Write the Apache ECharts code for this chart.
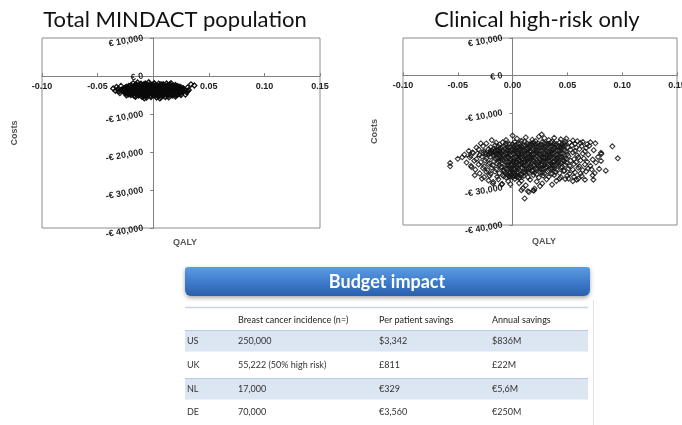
<!DOCTYPE html>
<html>
<head>
<meta charset="utf-8">
<script src="https://cdn.jsdelivr.net/npm/echarts@6/dist/echarts.min.js"></script>
<style>html,body{margin:0;padding:0;background:#fff}#c{width:682px;height:425px}</style>
</head>
<body>
<div id="c"></div>
<script>
// ---- Titles / labels ----
const chartTitles = ['Total MINDACT population', 'Clinical high-risk only'];
const xName = 'QALY';
const yName = 'Costs';
const xTicks = [-0.10, -0.05, 0.00, 0.05, 0.10, 0.15];
const yTicks = [10000, 0, -10000, -20000, -30000, -40000];

// ---- Scatter data: Total MINDACT population [QALY, cost] ----
const totalPoints = [
[-0.011,-2050],[-0.007,-1950],[-0.003,-2100],[0.001,-1900],[0.005,-2000],[0.009,-2150],[0.012,-1980],
[-0.015,-2200],[-0.008,-2180],[0.000,-2220],[0.007,-2190],[0.015,-2210],
[-0.020,-2450],[-0.016,-2350],[-0.013,-2480],[-0.009,-2300],[-0.005,-2420],[-0.002,-2380],[0.002,-2460],[0.006,-2330],[0.009,-2440],[0.013,-2370],[0.016,-2490],[0.020,-2350],
[-0.022,-2620],[-0.017,-2580],[-0.012,-2650],[-0.007,-2560],[-0.002,-2630],[0.003,-2590],[0.008,-2640],[0.013,-2570],[0.018,-2610],[0.022,-2660],
[-0.024,-2850],[-0.021,-2750],[-0.018,-2880],[-0.014,-2760],[-0.011,-2830],[-0.008,-2720],[-0.004,-2870],[-0.001,-2780],[0.003,-2840],[0.006,-2730],[0.010,-2890],[0.013,-2770],[0.017,-2850],[0.020,-2740],[0.024,-2820],
[-0.025,-3020],[-0.019,-2980],[-0.015,-3050],[-0.009,-2960],[-0.005,-3030],[0.000,-2990],[0.005,-3040],[0.010,-2970],[0.015,-3010],[0.019,-3060],[0.025,-2990],
[-0.024,-3100],[-0.018,-3080],[-0.012,-3110],[-0.007,-3090],[-0.001,-3100],[0.006,-3080],[0.012,-3120],[0.017,-3090],[0.022,-3110],
[-0.026,-3250],[-0.023,-3150],[-0.020,-3280],[-0.016,-3160],[-0.013,-3230],[-0.010,-3120],[-0.006,-3270],[-0.003,-3180],[0.001,-3240],[0.004,-3130],[0.008,-3290],[0.011,-3170],[0.014,-3220],[0.018,-3140],[0.021,-3260],[0.024,-3190],[0.027,-3230],
[-0.026,-3420],[-0.022,-3380],[-0.017,-3450],[-0.012,-3360],[-0.007,-3430],[-0.002,-3390],[0.002,-3440],[0.007,-3370],[0.012,-3410],[0.017,-3460],[0.022,-3390],[0.026,-3430],
[-0.028,-3500],[-0.019,-3510],[-0.013,-3490],[-0.005,-3520],[0.000,-3500],[0.005,-3480],[0.010,-3510],[0.015,-3490],[0.020,-3520],[0.025,-3500],
[-0.027,-3620],[-0.024,-3550],[-0.021,-3680],[-0.018,-3560],[-0.014,-3640],[-0.011,-3530],[-0.008,-3670],[-0.004,-3580],[-0.001,-3650],[0.003,-3540],[0.006,-3690],[0.009,-3570],[0.013,-3630],[0.016,-3550],[0.019,-3680],[0.023,-3590],[0.026,-3640],[0.028,-3560],
[-0.029,-3820],[-0.025,-3780],[-0.019,-3850],[-0.015,-3760],[-0.009,-3830],[-0.005,-3790],[0.001,-3840],[0.005,-3770],[0.011,-3810],[0.015,-3860],[0.021,-3790],[0.025,-3830],[0.029,-3800],
[-0.022,-3900],[-0.016,-3910],[-0.011,-3880],[-0.006,-3900],[-0.002,-3920],[0.003,-3890],[0.008,-3900],[0.013,-3910],[0.018,-3880],[0.023,-3900],[0.031,-3950],
[-0.027,-4050],[-0.023,-3950],[-0.020,-4080],[-0.017,-3960],[-0.013,-4030],[-0.010,-3920],[-0.007,-4070],[-0.003,-3980],[0.000,-4040],[0.004,-3930],[0.007,-4090],[0.010,-3970],[0.014,-4020],[0.017,-3940],[0.020,-4060],[0.024,-3990],[0.027,-4040],
[-0.026,-4220],[-0.021,-4180],[-0.016,-4250],[-0.011,-4160],[-0.006,-4230],[-0.001,-4190],[0.003,-4240],[0.008,-4170],[0.013,-4210],[0.018,-4260],[0.022,-4190],[0.026,-4230],
[-0.023,-4300],[-0.017,-4310],[-0.010,-4290],[-0.004,-4300],[0.000,-4320],[0.006,-4290],[0.010,-4300],[0.017,-4310],[0.024,-4290],
[-0.025,-4450],[-0.022,-4350],[-0.018,-4480],[-0.015,-4360],[-0.012,-4430],[-0.008,-4320],[-0.005,-4470],[-0.002,-4380],[0.002,-4440],[0.005,-4330],[0.008,-4490],[0.012,-4370],[0.015,-4420],[0.019,-4340],[0.022,-4460],[0.025,-4390],
[-0.024,-4620],[-0.019,-4580],[-0.013,-4650],[-0.009,-4560],[-0.003,-4630],[0.001,-4590],[0.007,-4640],[0.011,-4570],[0.016,-4610],[0.021,-4660],[0.024,-4600],
[-0.021,-4700],[-0.016,-4710],[-0.010,-4690],[-0.006,-4700],[0.002,-4710],[0.005,-4690],[0.012,-4700],[0.019,-4710],
[-0.022,-4850],[-0.018,-4750],[-0.015,-4880],[-0.011,-4760],[-0.008,-4830],[-0.004,-4720],[-0.001,-4870],[0.003,-4780],[0.006,-4840],[0.010,-4730],[0.013,-4890],[0.017,-4770],[0.020,-4850],[0.023,-4740],
[-0.020,-5020],[-0.014,-4980],[-0.010,-5050],[-0.005,-4960],[0.000,-5030],[0.004,-4990],[0.008,-5040],[0.014,-4970],[0.018,-5010],[0.021,-5060],
[-0.017,-5250],[-0.013,-5150],[-0.009,-5280],[-0.006,-5160],[-0.002,-5230],[0.002,-5120],[0.005,-5270],[0.009,-5180],[0.013,-5240],[0.017,-5150],
[-0.006,-5650],[-0.002,-5550],[0.003,-5680],[0.007,-5580],[-0.010,-5500],[0.011,-5520],
[-0.036,-3300],[-0.034,-3900],[-0.032,-3500],[-0.031,-4100],[-0.033,-2900],[-0.029,-2600],[-0.030,-4500],[0.031,-3000],[0.030,-4300],[0.032,-3700],[0.029,-4900],[0.037,-2500],[0.034,-2200],[-0.018,-1900],[-0.014,-1700],[0.016,-1900],[-0.004,-1650],[0.006,-5900],[-0.008,-5850],[0.014,-5600],[-0.016,-5500],[0.020,-5400],[-0.024,-5100],[0.025,-5000]
];

// ---- Scatter data: Clinical high-risk only [QALY, cost] ----
const highRiskPoints = [
[-0.057,-23400],[-0.057,-24300],[-0.046,-21900],[0.091,-18950],[0.096,-22170],[0.085,-25470],[0.081,-21000],[0.0755,-18150],[0.011,-32900],[0.000,-16100],[-0.018,-28900],[-0.0095,-29000],[0.014,-31000],[0.019,-30800],[0.0093,-30200],[0.0737,-27900],
[0.0807,-20700],[0.0807,-22870],[0.0731,-22500],[0.072,-25100],[0.073,-26700],[0.066,-27900],[0.0585,-27900],[0.0195,-30750],[0.025,-29600],[0.064,-17800],[0.0265,-15800],[0.043,-27600],[0.051,-27600],
[-0.0366,-20600],[-0.029,-18200],[-0.019,-17300],[-0.0375,-24500],[-0.0345,-26700],[-0.028,-27600],[-0.0177,-28500],[-0.010,-29200],[0.008,-30700],[0.015,-31200],[0.020,-30300],
[0.004,-16900],[0.012,-16600],[0.018,-17200],[0.024,-16400],[0.029,-16800],[0.033,-17300],[0.038,-16700],[0.044,-17100],[0.049,-16900],[0.055,-17400],[-0.006,-17300],[0.008,-17500],[0.021,-17600],[0.036,-17700],[0.059,-17600],
[-0.024,-18200],[-0.015,-18000],[-0.009,-17900],[-0.003,-18300],[0.002,-17800],[0.007,-18100],[0.011,-17700],[0.015,-18400],[0.019,-17900],[0.023,-18200],[0.027,-17800],[0.031,-18300],[0.035,-18000],[0.040,-18400],[0.043,-17900],[0.047,-18200],[0.052,-18000],[0.057,-18300],[0.062,-18100],[0.068,-18400],[0.071,-17900],[-0.012,-18450],[0.026,-18500],[0.048,-17650],
[-0.006,-18150],[0.000,-18350],[0.005,-18250],[0.013,-18150],[0.017,-18300],[0.021,-18350],[0.029,-18100],[0.033,-18250],[0.038,-18150],[0.045,-18350],
[-0.033,-19300],[-0.027,-18900],[-0.020,-19200],[-0.016,-18700],[-0.011,-19400],[-0.006,-18800],[-0.002,-19100],[0.003,-18600],[0.006,-19300],[0.010,-18900],[0.013,-19400],[0.016,-18700],[0.020,-19200],[0.024,-18800],[0.028,-19300],[0.032,-18700],[0.036,-19100],[0.039,-18600],[0.043,-19400],[0.046,-18900],[0.050,-19200],[0.054,-18700],[0.058,-19300],[0.063,-18900],[0.067,-19400],[0.070,-18800],[0.009,-19450],[0.030,-19000],[0.041,-19000],[0.018,-18550],
[-0.013,-19050],[-0.008,-18950],[-0.004,-19250],[0.001,-19000],[0.004,-19150],[0.008,-19050],[0.012,-18800],[0.015,-19150],[0.022,-19050],[0.026,-19150],[0.034,-18900],[0.038,-19250],[0.044,-19100],[0.048,-18800],
[-0.040,-20200],[-0.031,-19800],[-0.026,-20300],[-0.022,-19700],[-0.019,-20100],[-0.014,-19900],[-0.010,-20400],[-0.007,-19600],[-0.004,-20200],[0.000,-19800],[0.004,-20300],[0.007,-19700],[0.011,-20100],[0.014,-19600],[0.017,-20400],[0.021,-19900],[0.025,-20200],[0.029,-19700],[0.033,-20300],[0.037,-19800],[0.041,-20100],[0.045,-19600],[0.049,-20400],[0.053,-19900],[0.057,-20200],[0.061,-19700],[0.066,-20300],[0.074,-20000],[-0.017,-19550],[0.022,-20450],[0.035,-20450],[0.002,-19550],
[-0.016,-20250],[-0.012,-19750],[-0.009,-20100],[-0.005,-19950],[-0.002,-20050],[0.002,-20150],[0.006,-19900],[0.009,-20250],[0.013,-19850],[0.016,-20050],[0.019,-19750],[0.023,-20100],[0.027,-19950],[0.031,-20150],[0.035,-19850],[0.039,-20250],[0.043,-19950],[0.047,-20100],
[-0.044,-21200],[-0.036,-20800],[-0.030,-21300],[-0.025,-20700],[-0.022,-21100],[-0.020,-20600],[-0.018,-21400],[-0.015,-20900],[-0.013,-21200],[-0.011,-20700],[-0.008,-21300],[-0.005,-20800],[-0.001,-21200],[0.003,-20700],[0.006,-21400],[0.009,-20900],[0.012,-21300],[0.016,-20600],[0.019,-21100],[0.023,-20800],[0.026,-21400],[0.030,-20900],[0.034,-21200],[0.038,-20700],[0.042,-21300],[0.046,-20800],[0.050,-21100],[0.055,-20600],[0.059,-21400],[0.064,-20900],[0.069,-21200],[-0.021,-20900],[-0.016,-21000],[0.014,-21000],[0.031,-21450],
[-0.024,-21050],[-0.019,-20800],[-0.014,-21100],[-0.010,-20950],[-0.006,-21050],[-0.003,-20900],[0.001,-21050],[0.005,-20850],[0.008,-21150],[0.011,-20800],[0.017,-21250],[0.021,-20950],[0.025,-21050],[0.028,-21200],[0.032,-20800],[0.036,-21000],[0.040,-21150],[0.044,-20950],
[-0.050,-22300],[-0.039,-21900],[-0.033,-22400],[-0.028,-21700],[-0.024,-22200],[-0.020,-21800],[-0.016,-22300],[-0.012,-21600],[-0.009,-22100],[-0.005,-21700],[-0.002,-22400],[0.002,-21900],[0.005,-22200],[0.008,-21600],[0.012,-22300],[0.015,-21800],[0.018,-22100],[0.022,-21600],[0.025,-22400],[0.028,-21900],[0.032,-22200],[0.035,-21700],[0.039,-22300],[0.043,-21800],[0.047,-22100],[0.051,-21600],[0.056,-22400],[0.060,-21900],[0.065,-22200],[0.078,-21800],[0.010,-22450],[0.020,-22000],[0.037,-22050],[-0.007,-22000],
[-0.014,-21950],[-0.011,-22200],[-0.004,-22050],[0.000,-22150],[0.004,-21800],[0.007,-22000],[0.013,-21950],[0.017,-21800],[0.024,-22100],[0.027,-21750],[0.030,-22050],[0.034,-21950],[0.041,-22050],[0.045,-21900],[0.049,-22250],
[-0.042,-23300],[-0.035,-22800],[-0.029,-23200],[-0.025,-22700],[-0.021,-23400],[-0.017,-22900],[-0.013,-23100],[-0.009,-22600],[-0.006,-23300],[-0.002,-22800],[0.001,-23200],[0.005,-22700],[0.008,-23400],[0.011,-22900],[0.015,-23100],[0.018,-22600],[0.021,-23300],[0.025,-22800],[0.028,-23200],[0.031,-22700],[0.035,-23400],[0.038,-22900],[0.042,-23100],[0.046,-22600],[0.049,-23300],[0.053,-22800],[0.058,-23200],[0.062,-22700],[0.068,-23100],[0.076,-23300],[0.016,-22650],[0.003,-23450],[0.044,-23450],
[-0.011,-22850],[-0.004,-23050],[0.000,-22900],[0.003,-23100],[0.007,-22850],[0.010,-23150],[0.013,-22800],[0.019,-22950],[0.023,-23050],[0.027,-22900],[0.030,-23100],[0.033,-22850],[0.037,-23150],[0.040,-22800],[0.047,-22950],
[-0.038,-24200],[-0.031,-23800],[-0.026,-24300],[-0.022,-23700],[-0.018,-24100],[-0.014,-23600],[-0.010,-24400],[-0.007,-23900],[-0.003,-24200],[0.000,-23700],[0.004,-24300],[0.007,-23800],[0.010,-24100],[0.014,-23600],[0.017,-24400],[0.020,-23900],[0.024,-24200],[0.027,-23700],[0.031,-24300],[0.034,-23800],[0.037,-24100],[0.041,-23600],[0.045,-24400],[0.048,-23900],[0.052,-24200],[0.056,-23700],[0.061,-24300],[0.066,-23800],[0.071,-24200],[0.012,-23950],[0.029,-24000],
[-0.012,-24050],[-0.005,-23950],[-0.001,-24100],[0.002,-23850],[0.006,-24050],[0.009,-23750],[0.016,-24000],[0.019,-24150],[0.022,-23800],[0.026,-24050],[0.033,-24150],[0.036,-23850],[0.039,-24000],[0.043,-23900],
[-0.034,-25200],[-0.027,-24800],[-0.023,-25300],[-0.019,-24700],[-0.015,-25100],[-0.011,-24600],[-0.008,-25400],[-0.004,-24900],[-0.001,-25200],[0.003,-24700],[0.006,-25300],[0.009,-24800],[0.013,-25100],[0.016,-24600],[0.019,-25400],[0.023,-24900],[0.026,-25200],[0.030,-24700],[0.033,-25300],[0.036,-24800],[0.040,-25100],[0.044,-24600],[0.047,-25400],[0.051,-24900],[0.055,-25200],[0.060,-24700],[0.064,-25300],[0.069,-24900],[0.079,-25000],
[-0.006,-25050],[-0.002,-24800],[0.001,-25000],[0.005,-24900],[0.011,-25000],[0.015,-24850],[0.021,-25050],[0.025,-24800],[0.028,-25000],[0.035,-25050],[0.038,-24900],
[-0.030,-26200],[-0.024,-25800],[-0.020,-26300],[-0.016,-25700],[-0.012,-26100],[-0.008,-25600],[-0.005,-26400],[-0.002,-25900],[0.002,-26200],[0.005,-25700],[0.008,-26300],[0.012,-25800],[0.015,-26100],[0.018,-25600],[0.022,-26400],[0.025,-25900],[0.029,-26200],[0.032,-25700],[0.036,-26300],[0.039,-25800],[0.043,-26100],[0.047,-25600],[0.052,-26300],[0.057,-25900],[0.062,-26200],[0.067,-25700],[0.075,-26100],
[-0.007,-26000],[-0.003,-26250],[0.000,-25800],[0.004,-26050],[0.010,-26000],[0.014,-25850],[0.020,-26050],[0.027,-26000],
[-0.026,-27200],[-0.021,-26800],[-0.014,-27100],[-0.009,-26700],[-0.006,-27300],[-0.003,-26900],[0.000,-27200],[0.003,-26600],[0.006,-27400],[0.010,-26900],[0.014,-27200],[0.019,-26700],[0.024,-27300],[0.028,-26800],[0.033,-27100],[0.038,-26600],[0.044,-27200],[0.050,-26800],[0.056,-27100],[0.063,-26900],[-0.001,-26650],[0.005,-27000],
[-0.008,-27050],[-0.004,-26750],[-0.002,-27100],[0.002,-26900],[0.004,-27200],[0.008,-26800],
[-0.022,-28100],[-0.013,-27800],[-0.004,-28300],[0.002,-27700],[0.008,-28200],[0.016,-27900],[0.022,-28400],[0.031,-27800],[0.040,-28200],[0.048,-27700],[0.055,-28300],[0.060,-27600],
[-0.002,-29100],[0.006,-28800],[0.012,-29400],[0.027,-28900],[0.036,-29200]
];

// ---- Budget impact table ----
const tableTitle = 'Budget impact';
const tableHeaders = ['', 'Breast cancer incidence (n=)', 'Per patient savings', 'Annual savings'];
const countries = ['US', 'UK', 'NL', 'DE'];
const incidence = ['250,000', '55,222 (50% high risk)', '17,000', '70,000'];
const perPatientSavings = ['$3,342', '£811', '€329', '€3,560'];
const annualSavings = ['$836M', '£22M', '€5,6M', '€250M'];

const FONT = 'Liberation Sans';
const TFONT = 'Lato';

function yFmt(v) {
  if (v === 0) return '€ 0';
  const s = Math.abs(v).toLocaleString('en-US');
  return (v < 0 ? '-€ ' : '€ ') + s;
}

const grids = [
  { left: 42, top: 38, width: 278, height: 190 },
  { left: 403, top: 38, width: 274, height: 187 }
];
const xMin = xTicks[0], xMax = xTicks[xTicks.length - 1];
const yMin = yTicks[yTicks.length - 1], yMax = yTicks[0];

function axisPair(idx) {
  const g = grids[idx];
  // place the axes through the origin (0,0) of the value ranges
  const xAxisOffset = -g.height * (0 - yMin) / (yMax - yMin);
  const yAxisOffset = -g.width * (0 - xMin) / (xMax - xMin);
  const x = {
    type: 'value', gridIndex: idx, min: xMin, max: xMax, interval: 0.05, position: 'bottom', offset: xAxisOffset,
    axisLine: { onZero: false, lineStyle: { color: '#808080', width: 1 } },
    axisTick: { show: true, inside: true, length: 3, lineStyle: { color: '#808080' } },
    axisLabel: { formatter: v => v.toFixed(2), fontFamily: FONT, fontSize: 9, fontWeight: 'bold', color: '#222', margin: 6, showMinLabel: true, showMaxLabel: true, hideOverlap: false },
    splitLine: { show: false },
    name: xName, nameLocation: 'middle', nameGap: 162, nameMoveOverlap: false,
    nameTextStyle: { fontFamily: FONT, fontSize: 9, fontWeight: 'bold', color: '#555', padding: [0, 0, 0, 8] }
  };
  const y = {
    type: 'value', gridIndex: idx, min: yMin, max: yMax, interval: 10000, position: 'left', offset: yAxisOffset,
    axisLine: { onZero: false, lineStyle: { color: '#808080', width: 1 } },
    axisTick: { show: true, length: 3, lineStyle: { color: '#808080' } },
    axisLabel: { formatter: yFmt, fontFamily: FONT, fontSize: 9, fontWeight: 'bold', color: '#222', margin: 10, rotate: 10, padding: [6, 0, 0, 0], hideOverlap: false },
    splitLine: { show: false },
    name: yName, nameLocation: 'middle', nameGap: 134, nameRotate: 90, nameMoveOverlap: false,
    nameTextStyle: { fontFamily: FONT, fontSize: 9, fontWeight: 'bold', color: '#555' }
  };
  return [x, y];
}

const [x0, y0] = axisPair(0);
const [x1, y1] = axisPair(1);

// table graphic
const colX = [187, 238, 379, 492];
const rowY = [341, 365, 389, 412];
const headerY = 320;
const tableLeft = 185, tableRight = 588;
const gElems = [];
gElems.push({ type: 'rect', shape: { x: 185, y: 267, width: 405, height: 29, r: [3, 3, 6, 6] },
  style: { fill: new echarts.graphic.LinearGradient(0, 0, 0, 1, [{ offset: 0, color: '#5d9ce2' }, { offset: 0.5, color: '#3f7dcc' }, { offset: 1, color: '#2a5fad' }]),
    shadowBlur: 4, shadowOffsetY: 2, shadowColor: 'rgba(0,0,0,0.35)' } });
gElems.push({ type: 'text', x: 387, y: 282, style: { text: tableTitle, fill: '#fff', font: 'bold 18px ' + TFONT, textAlign: 'center', textVerticalAlign: 'middle' } });
gElems.push({ type: 'line', shape: { x1: tableLeft, y1: 307.5, x2: tableRight, y2: 307.5 }, style: { stroke: '#c9d3e0', lineWidth: 1.5 } });
gElems.push({ type: 'line', shape: { x1: 593.5, y1: 300, x2: 593.5, y2: 425 }, style: { stroke: '#e2e2e2', lineWidth: 1 } });
for (let r = 0; r < countries.length; r++) {
  if (r % 2 === 0) {
    gElems.push({ type: 'rect', shape: { x: tableLeft, y: rowY[r] - 10.5, width: tableRight - tableLeft, height: 21 }, style: { fill: '#dce6f2' } });
    gElems.push({ type: 'line', shape: { x1: tableLeft, y1: rowY[r] - 10.5, x2: tableRight, y2: rowY[r] - 10.5 }, style: { stroke: '#b8cbe3', lineWidth: 1 } });
  }
}
for (let c = 1; c < tableHeaders.length; c++) {
  gElems.push({ type: 'text', x: colX[c], y: headerY, style: { text: tableHeaders[c], fill: '#222', font: '9px ' + TFONT, textVerticalAlign: 'middle' } });
}
const cols = [countries, incidence, perPatientSavings, annualSavings];
for (let r = 0; r < countries.length; r++) {
  for (let c = 0; c < cols.length; c++) {
    gElems.push({ type: 'text', x: colX[c], y: rowY[r], style: { text: cols[c][r], fill: '#333', font: '9px ' + TFONT, textVerticalAlign: 'middle' } });
  }
}

const pointStyleA = { color: 'rgba(255,255,255,0)', borderColor: '#0a0a0a', borderWidth: 1.3, opacity: 0.95 };
const pointStyleB = { color: 'rgba(255,255,255,0)', borderColor: '#151515', borderWidth: 1.1, opacity: 0.85 };

const chart = echarts.init(document.getElementById('c'), null, { renderer: 'canvas' });
chart.setOption({
  animation: false,
  backgroundColor: '#fff',
  title: [
    { text: chartTitles[0], left: 170, top: 4, textAlign: 'center', textStyle: { fontFamily: TFONT, fontSize: 22, fontWeight: 'normal', color: '#111' } },
    { text: chartTitles[1], left: 532, top: 4, textAlign: 'center', textStyle: { fontFamily: TFONT, fontSize: 22, fontWeight: 'normal', color: '#111' } }
  ],
  grid: grids.map(g => Object.assign({ show: true, borderColor: '#8c8c8c', borderWidth: 1, containLabel: false, outerBoundsMode: 'none' }, g)),
  xAxis: [x0, x1],
  yAxis: [y0, y1],
  series: [
    { type: 'scatter', xAxisIndex: 0, yAxisIndex: 0, data: totalPoints, symbol: 'diamond', symbolSize: 5, itemStyle: pointStyleA, silent: true },
    { type: 'scatter', xAxisIndex: 1, yAxisIndex: 1, data: highRiskPoints, symbol: 'diamond', symbolSize: 5, itemStyle: pointStyleB, silent: true }
  ],
  graphic: gElems
});
</script>
</body>
</html>
